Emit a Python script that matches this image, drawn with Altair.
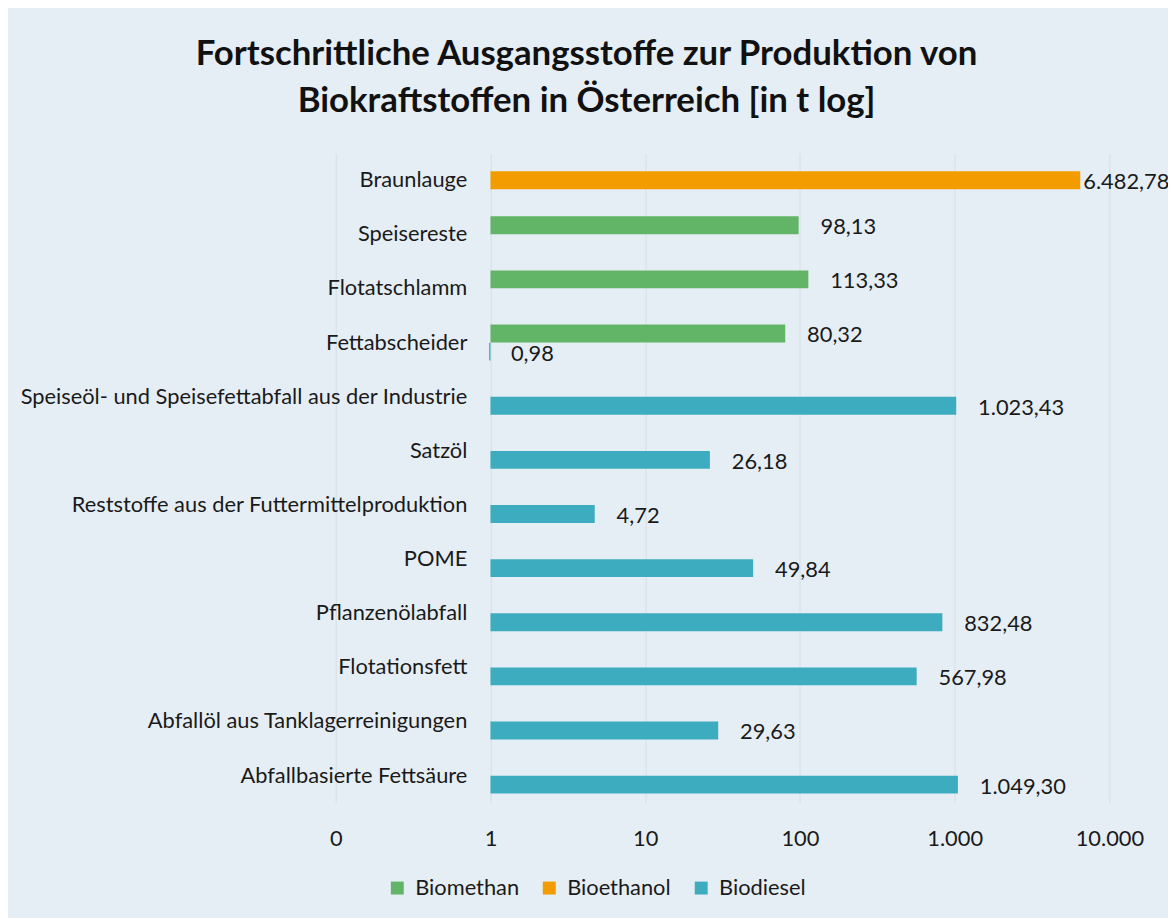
import altair as alt
import pandas as pd

# ---- data -------------------------------------------------------------
categories = [
    "Braunlauge",
    "Speisereste",
    "Flotatschlamm",
    "Fettabscheider",
    "Speiseöl- und Speisefettabfall aus der Industrie",
    "Satzöl",
    "Reststoffe aus der Futtermittelproduktion",
    "POME",
    "Pflanzenölabfall",
    "Flotationsfett",
    "Abfallöl aus Tanklagerreinigungen",
    "Abfallbasierte Fettsäure",
]
series_names = ["Biomethan", "Bioethanol", "Biodiesel"]
series_colors = ["#62B566", "#F39C00", "#3DACBF"]

bar_category = [
    "Braunlauge",
    "Speisereste",
    "Flotatschlamm",
    "Fettabscheider",
    "Fettabscheider",
    "Speiseöl- und Speisefettabfall aus der Industrie",
    "Satzöl",
    "Reststoffe aus der Futtermittelproduktion",
    "POME",
    "Pflanzenölabfall",
    "Flotationsfett",
    "Abfallöl aus Tanklagerreinigungen",
    "Abfallbasierte Fettsäure",
]
bar_series = [
    "Bioethanol",
    "Biomethan",
    "Biomethan",
    "Biomethan",
    "Biodiesel",
    "Biodiesel",
    "Biodiesel",
    "Biodiesel",
    "Biodiesel",
    "Biodiesel",
    "Biodiesel",
    "Biodiesel",
    "Biodiesel",
]
bar_values = [6482.78, 98.13, 113.33, 80.32, 0.98, 1023.43, 26.18, 4.72,
              49.84, 832.48, 567.98, 29.63, 1049.30]

tick_values = [0.1, 1, 10, 100, 1000, 10000]
tick_labels = ["0", "1", "10", "100", "1.000", "10.000"]

title_lines = ["Fortschrittliche Ausgangsstoffe zur Produktion von",
               "Biokraftstoffen in Österreich [in t log]"]


def de_format(v):
    s = f"{v:,.2f}"
    return s.replace(",", "#").replace(".", ",").replace("#", ".")


df = pd.DataFrame({
    "Kategorie": bar_category,
    "Serie": bar_series,
    "Wert": bar_values,
})
df["Label"] = [de_format(v) for v in df["Wert"]]

# ---- styling ----------------------------------------------------------
FONT = "Lato"
FS = 22
BG = "#E6EEF5"
GRID = "#D6DEE6"
TXT = "#1A1A1A"

label_expr = " : ".join(
    f"datum.value == {v} ? '{l}'" for v, l in zip(tick_values, tick_labels)
) + " : ''"

x_enc = alt.X(
    "Wert:Q",
    scale=alt.Scale(type="log", domain=[tick_values[0], tick_values[-1]], nice=False),
    axis=alt.Axis(
        values=tick_values,
        labelExpr=label_expr,
        title=None,
        grid=True,
        gridColor=GRID,
        gridWidth=1,
        domain=False,
        ticks=False,
        labelFlush=False,
        labelOverlap=False,
        labelPadding=26,
        labelFontSize=FS,
        labelFont=FONT,
        labelColor=TXT,
    ),
)
y_enc = alt.Y(
    "Kategorie:N",
    sort=categories,
    scale=alt.Scale(paddingInner=0.5, paddingOuter=0.25),
    axis=alt.Axis(
        title=None,
        domain=False,
        ticks=False,
        grid=False,
        offset=-155,
        labelPadding=23,
        labelFontSize=FS,
        labelFont=FONT,
        labelColor=TXT,
        labelLimit=0,
    ),
)
yoff_enc = alt.YOffset(
    "Serie:N",
    sort=series_names,
    scale=alt.Scale(domain=series_names, paddingInner=0, paddingOuter=0),
)
color_enc = alt.Color(
    "Serie:N",
    scale=alt.Scale(domain=series_names, range=series_colors),
    legend=alt.Legend(
        title=None,
        orient="none",
        direction="horizontal",
        legendX=51,
        legendY=729,
        padding=0,
        symbolType="square",
        symbolSize=169,
        symbolStrokeWidth=0,
        labelFontSize=FS,
        labelFont=FONT,
        labelColor=TXT,
        labelOffset=7,
        columnPadding=19,
    ),
)

bars = alt.Chart(df).mark_bar(size=18).encode(
    x=x_enc,
    x2=alt.X2(datum=1),
    y=y_enc,
    yOffset=yoff_enc,
    color=color_enc,
)

text_common = dict(align="left", baseline="middle", fontSize=FS, font=FONT, color=TXT, dy=2)

labels_main = alt.Chart(df).transform_filter(
    alt.datum.Serie != "Bioethanol"
).mark_text(dx=22, **text_common).encode(
    x="Wert:Q", y=alt.Y("Kategorie:N", sort=categories),
    yOffset=alt.YOffset("Serie:N", sort=series_names), text="Label:N",
)
labels_eth = alt.Chart(df).transform_filter(
    alt.datum.Serie == "Bioethanol"
).mark_text(dx=3, **text_common).encode(
    x="Wert:Q", y=alt.Y("Kategorie:N", sort=categories),
    yOffset=alt.YOffset("Serie:N", sort=series_names), text="Label:N",
)

chart = alt.layer(bars, labels_main, labels_eth).properties(
    width=779,
    height=654,
    autosize="none",
    padding={"left": 330, "top": 143, "right": 59, "bottom": 113},
    background=BG,
    title=alt.Title(
        text=title_lines,
        font=FONT,
        fontSize=35,
        fontWeight="bold",
        color="#111111",
        anchor="middle",
        frame="group",
        dx=-137,
        offset=34,
        lineHeight=48,
    ),
).configure_view(stroke=None)

chart.save("out.html", embed_options={"renderer": "svg", "actions": False})
